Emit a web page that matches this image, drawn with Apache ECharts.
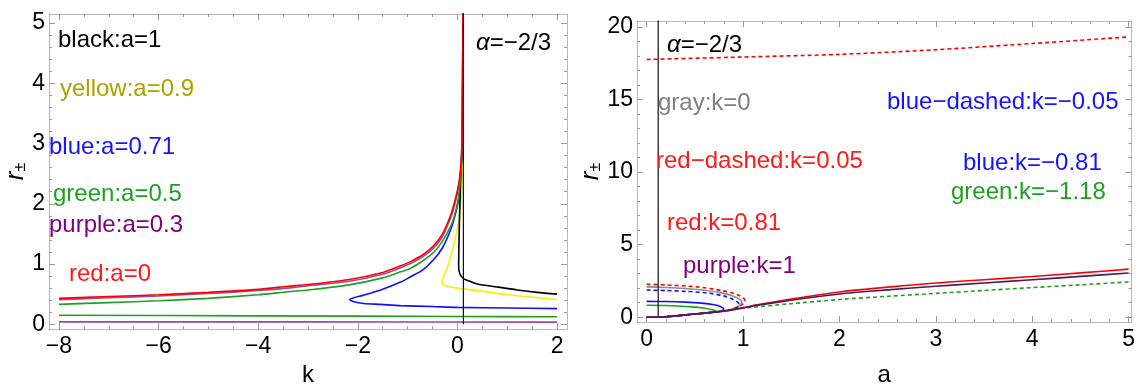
<!DOCTYPE html>
<html>
<head>
<meta charset="utf-8">
<script src="https://cdn.jsdelivr.net/npm/echarts@6/dist/echarts.min.js"></script>
<style>html,body{margin:0;padding:0;background:#fff;}#c{width:1138px;height:392px;}</style>
</head>
<body>
<div id="c"></div>
<script>
// ---------- tick labels ----------
const leftXTicks = [-8, -6, -4, -2, 0, 2];
const leftYTicks = [0, 1, 2, 3, 4, 5];
const rightXTicks = [0, 1, 2, 3, 4, 5];
const rightYTicks = [0, 5, 10, 15, 20];

// ---------- left panel: r vs k (alpha = -2/3) ----------
const redA0 = [[-8,0.43],[-7,0.46],[-6,0.49],[-5,0.53],[-4,0.58],[-3.4,0.63],[-3,0.66],[-2.2,0.74],[-1.5,0.86],[-1.14,0.97],[-0.94,1.04],[-0.7,1.15],[-0.47,1.31],[-0.3,1.5],[-0.14,1.8],[-0.05,2.05],[0.03,2.35],[0.07,2.65],[0.09,2.9],[0.1,3.3],[0.105,4.0],[0.11,5.3]];
const purpleA03Upper = [[-8,0.41],[-7,0.44],[-6,0.47],[-5,0.51],[-4,0.56],[-3.4,0.6],[-3,0.64],[-2.2,0.71],[-1.5,0.83],[-1.14,0.94],[-0.94,1.01],[-0.7,1.12],[-0.47,1.27],[-0.3,1.46],[-0.14,1.76],[-0.05,2.0],[0.03,2.3],[0.07,2.6],[0.09,2.88],[0.1,3.3],[0.105,4.0],[0.11,5.3]];
const purpleA03Lower = [[-8,0.04],[-3,0.04],[2,0.035]];
const greenA05Upper = [[-8,0.33],[-7,0.36],[-6,0.39],[-5,0.43],[-4,0.49],[-3.4,0.54],[-3,0.57],[-2.2,0.65],[-1.5,0.77],[-1.14,0.87],[-0.94,0.93],[-0.7,1.05],[-0.47,1.2],[-0.3,1.38],[-0.14,1.62],[-0.07,1.77],[0.02,2.1],[0.06,2.43],[0.09,2.8],[0.1,3.3],[0.105,4.0],[0.11,5.3]];
const greenA05Lower = [[-8,0.15],[-4,0.14],[0,0.13],[2,0.125]];
const blueA071 = [[0.11,5.3],[0.105,4.0],[0.1,3.2],[0.09,2.64],[0.03,2.1],[-0.05,1.8],[-0.14,1.56],[-0.3,1.27],[-0.47,1.08],[-0.7,0.9],[-0.94,0.79],[-1.14,0.7],[-1.54,0.57],[-1.9,0.48],[-2.08,0.44],[-2.16,0.41],[-2.08,0.375],[-1.88,0.345],[-1.54,0.33],[-1.14,0.31],[-0.5,0.295],[0,0.28],[1,0.27],[2,0.26]];
const yellowA09 = [[0.11,5.3],[0.105,4.0],[0.1,3.0],[0.09,2.26],[0.03,1.72],[-0.05,1.4],[-0.14,1.11],[-0.22,0.9],[-0.28,0.79],[-0.31,0.72],[-0.29,0.66],[-0.2,0.63],[-0.1,0.61],[0,0.6],[0.2,0.58],[0.5,0.55],[1,0.49],[1.5,0.45],[2,0.41]];
const blackA1 = [[0.11,5.3],[0.105,4.0],[0.09,3.0],[0.06,2.3],[0.04,1.7],[0.03,1.3],[0.025,1.0],[0.03,0.9],[0.06,0.82],[0.12,0.76],[0.19,0.73],[0.4,0.67],[0.79,0.62],[1.2,0.57],[1.6,0.53],[2,0.5]];
const leftMarkerLine = [[0.12,0],[0.12,5.3]];

// ---------- right panel: r vs a ----------
const redDashedK005Upper = [[0,17.75],[1,17.92],[2,18.1],[3,18.42],[4,18.85],[5,19.3]];
const redDashedK005Lower = [[0,2.27],[0.2,2.22],[0.44,2.13],[0.6,2.03],[0.79,1.82],[0.9,1.65],[0.96,1.5],[1.01,1.28],[1.02,1.12],[1.0,0.92],[0.95,0.72],[0.9,0.56],[0.8,0.43],[0.47,0.2],[0.2,0.03],[0,0]];
const grayK0 = [[0,2.09],[0.2,2.05],[0.4,1.98],[0.6,1.86],[0.79,1.66],[0.9,1.45],[0.96,1.25],[0.99,1.05],[0.97,0.85],[0.92,0.65],[0.85,0.48],[0.8,0.43],[0.47,0.2],[0.2,0.03],[0,0]];
const blueDashedKm005 = [[0,1.87],[0.2,1.84],[0.4,1.78],[0.62,1.68],[0.8,1.47],[0.9,1.22],[0.95,1.0],[0.96,0.87],[0.93,0.65],[0.87,0.5],[0.8,0.43],[0.47,0.2],[0.2,0.03],[0,0]];
const blueKm081 = [[0,1.09],[0.2,1.08],[0.4,1.04],[0.57,0.97],[0.7,0.86],[0.77,0.72],[0.8,0.58],[0.79,0.48],[0.74,0.38],[0.47,0.2],[0.2,0.03],[0,0]];
const greenKm118 = [[0,0.82],[0.2,0.81],[0.47,0.71],[0.6,0.62],[0.68,0.52],[0.72,0.43],[0.7,0.35],[0.6,0.28],[0.47,0.2],[0.2,0.03],[0,0]];
const greenDotted = [[0.9,0.55],[1,0.62],[1.5,0.93],[2,1.22],[2.5,1.44],[3,1.64],[3.5,1.84],[4,2.04],[4.5,2.23],[5,2.43]];
const redK081 = [[0,0],[0.2,0.03],[0.47,0.2],[0.8,0.43],[1,0.66],[1.16,0.87],[1.5,1.25],[2,1.74],[2.5,2.07],[3,2.36],[3.5,2.58],[4,2.8],[4.5,3.05],[5,3.31]];
const purpleK1 = [[0,0],[0.2,0.03],[0.47,0.2],[0.8,0.42],[1,0.64],[1.16,0.83],[1.5,1.17],[2,1.6],[2.5,1.88],[3,2.13],[3.5,2.36],[4,2.58],[4.5,2.81],[5,3.04]];
const rightMarkerLine = [[0.12,0],[0.12,21]];

// ---------- annotation texts ----------
const leftNotes = ['black:a=1','yellow:a=0.9','blue:a=0.71','green:a=0.5','purple:a=0.3','red:a=0'];
const rightNotes = ['gray:k=0','red\u2212dashed:k=0.05','red:k=0.81','purple:k=1','blue\u2212dashed:k=\u22120.05','blue:k=\u22120.81','green:k=\u22121.18'];
const alphaNote = '=\u22122/3';

// ---------- helpers ----------
const FONT = '"Liberation Sans", Arial, sans-serif';
function range(a, b, s) { const out = []; for (let v = a; v <= b + 1e-9; v += s) out.push(+v.toFixed(4)); return out; }
const fmt = v => String(v).replace('-', '\u2212');
function axes(kind, grid, min, max, majors, minors, name, nameGap) {
  const posA = kind === 'x' ? 'bottom' : 'left';
  const posB = kind === 'x' ? 'top' : 'right';
  const tickStyle = { color: '#9a9a9a', width: 1 };
  const base = { type: 'value', gridIndex: grid, min: min, max: max, splitLine: { show: false }, minorTick: { show: false } };
  const main = Object.assign({}, base, {
    position: posA,
    axisLine: { show: true, onZero: false, lineStyle: { color: '#b8b8b8', width: 1 } },
    axisTick: { show: true, inside: true, length: 6, customValues: majors, lineStyle: tickStyle },
    axisLabel: { show: true, customValues: majors, formatter: fmt, color: '#000', fontSize: 23, fontFamily: FONT, margin: kind === 'x' ? 6 : 4 },
    name: name, nameLocation: 'middle', nameGap: nameGap
  });
  if (kind === 'y') {
    main.nameRotate = 90;
    main.nameTextStyle = { color: '#000', fontFamily: FONT, rich: { r: { fontSize: 26, fontStyle: 'italic', fontFamily: FONT, color: '#000' }, s: { fontSize: 16, fontFamily: FONT, color: '#000', verticalAlign: 'bottom' } } };
  } else {
    main.nameTextStyle = { color: '#000', fontSize: 24, fontFamily: FONT };
  }
  const minorA = Object.assign({}, base, { position: posA, axisLine: { show: false, onZero: false }, axisTick: { show: true, inside: true, length: 3, customValues: minors, lineStyle: tickStyle }, axisLabel: { show: false } });
  const majB = Object.assign({}, base, { position: posB, axisLine: { show: true, onZero: false, lineStyle: { color: '#b8b8b8', width: 1 } }, axisTick: { show: true, inside: true, length: 6, customValues: majors, lineStyle: tickStyle }, axisLabel: { show: false } });
  const minorB = Object.assign({}, base, { position: posB, axisLine: { show: false, onZero: false }, axisTick: { show: true, inside: true, length: 3, customValues: minors, lineStyle: tickStyle }, axisLabel: { show: false } });
  return [main, minorA, majB, minorB];
}
function line(data, color, panel, opts) {
  opts = opts || {};
  return {
    type: 'line', data: data, xAxisIndex: panel * 4, yAxisIndex: panel * 4,
    showSymbol: false, symbol: 'none', smooth: opts.smooth == null ? 0.25 : opts.smooth, clip: true, silent: true, animation: false,
    lineStyle: { color: color, width: opts.width || 1.6, type: opts.dash || 'solid' }, z: opts.z || 2
  };
}

const xAxes = [].concat(
  axes('x', 0, -8.2, 2.2, leftXTicks, range(-8, 2, 0.5), 'k', 32),
  axes('x', 1, -0.1, 5.03, rightXTicks, range(0, 5, 0.2), 'a', 41)
);
const yAxes = [].concat(
  axes('y', 0, -0.08, 5.15, leftYTicks, range(0, 5, 0.2), '{r|r}{s|\u00b1}', 20),
  axes('y', 1, -0.33, 20.4, rightYTicks, range(0, 20, 1), '{r|r}{s|\u00b1}', 32)
);

const C = { red: '#ff0000', purpleL: '#9a4aa4', green: '#1fa01f', blue: '#1010ff', yellow: '#f2f200', black: '#000000', gray: '#8c8c8c', darkPurple: '#4a1d58' };
const dot = [4, 3];
const series = [
  line(purpleA03Lower, C.purpleL, 0), line(greenA05Lower, C.green, 0),
  line(blueA071, C.blue, 0), line(yellowA09, C.yellow, 0), line(blackA1, C.black, 0),
  line(greenA05Upper, C.green, 0), line(purpleA03Upper, C.purpleL, 0), line(redA0, C.red, 0),
  line(leftMarkerLine, '#111', 0, { width: 1.2, smooth: false, z: 3 }),
  line(redDashedK005Upper, C.red, 1, { dash: dot }),
  line(redDashedK005Lower, C.red, 1, { dash: dot }),
  line(grayK0, C.gray, 1),
  line(blueDashedKm005, C.blue, 1, { dash: dot }),
  line(blueKm081, C.blue, 1),
  line(greenKm118, C.green, 1),
  line(greenDotted, C.green, 1, { dash: dot }),
  line(redK081, C.red, 1),
  line(purpleK1, C.darkPurple, 1, { z: 4 }),
  line(rightMarkerLine, '#111', 1, { width: 1.2, smooth: false, z: 3 })
];

function note(text, x, y, color) {
  return { type: 'text', x: x, y: y, z: 10, silent: true, style: { text: text, fill: color, font: '24px ' + FONT, verticalAlign: 'middle', align: 'left' } };
}
function alpha(x, y) {
  return { type: 'text', x: x, y: y, z: 10, silent: true, style: { text: '{g|\u03b1}{t|' + alphaNote + '}', verticalAlign: 'middle', align: 'left', rich: { g: { fontSize: 24, fontStyle: 'italic', fontFamily: FONT, fill: '#000' }, t: { fontSize: 24, fontFamily: FONT, fill: '#000' } } } };
}
const lp = [[58,40,C.black],[60,89,'#a9a400'],[49,147,'#1414ff'],[53,194,'#1f9f1f'],[49,225,'#800080'],[69,274,'#ff1a1a']];
const rp = [[658,103,'#808080'],[656,161,'#ff1a1a'],[667,223,'#ff1a1a'],[683,266,'#800080'],[887,102,'#1414ff'],[963,163,'#1414ff'],[951,192,'#1f9f1f']];
const graphic = [];
leftNotes.forEach((t, i) => graphic.push(note(t, lp[i][0], lp[i][1], lp[i][2])));
rightNotes.forEach((t, i) => graphic.push(note(t, rp[i][0], rp[i][1], rp[i][2])));
graphic.push(alpha(476, 43));
graphic.push(alpha(667, 45));

const chart = echarts.init(document.getElementById('c'), null, { renderer: 'canvas' });
chart.setOption({
  animation: false,
  backgroundColor: '#ffffff',
  grid: [
    { left: 49, right: 1138 - 567, top: 14, bottom: 392 - 333, containLabel: false },
    { left: 637, right: 3, top: 21, bottom: 392 - 333, containLabel: false }
  ],
  xAxis: xAxes,
  yAxis: yAxes,
  series: series,
  graphic: graphic
});
</script>
</body>
</html>
